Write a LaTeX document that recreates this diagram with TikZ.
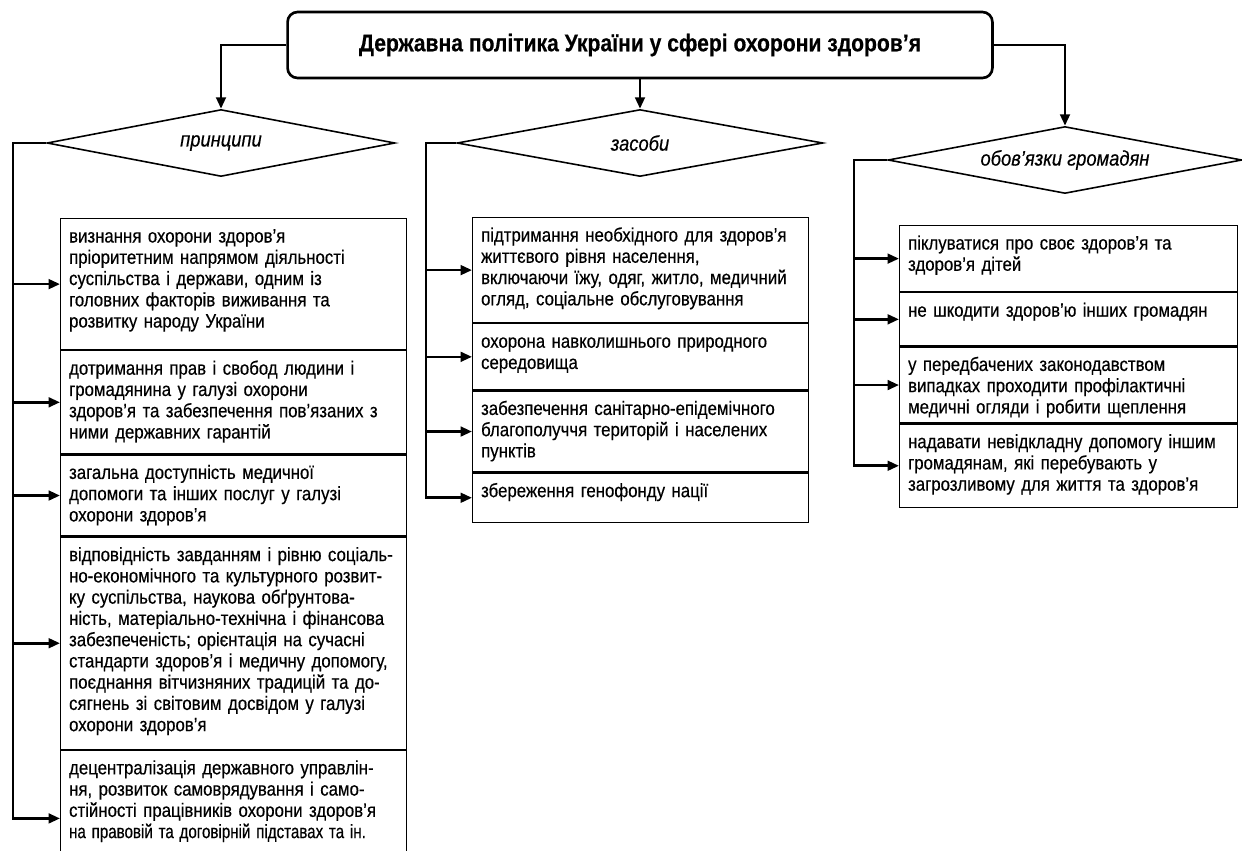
\documentclass[tikz,border=0pt]{standalone}
\usepackage{fontspec}
\setmainfont{Liberation Sans}[FakeStretch=0.87,FakeBold=0.4]
\usetikzlibrary{arrows.meta,positioning,shapes.geometric}
\newcommand\celltext[2]{\parbox[t][#1][t]{\linewidth}{\strut#2}}

\begin{document}
\begin{tikzpicture}[x=0.02cm,y=-0.02cm,
    conn/.style={line width=1.5pt},
    arr/.style={conn,-{Triangle[length=6.5pt,width=5.5pt]}},
    title/.style={draw,line width=1.5pt,rounded corners=0.2cm,minimum width=14.1cm,minimum height=1.32cm,font=\fontsize{13.8}{15}\selectfont\bfseries},
    choice/.style={draw,diamond,line width=0.9pt,aspect=5.4,inner sep=0pt,minimum height=1.34cm,font=\fontsize{12}{14}\selectfont\itshape},
    item/.style={draw,line width=0.7pt,anchor=north west,align=left,inner xsep=0.17cm,inner ysep=0.18cm,font=\fontsize{11}{12.1}\selectfont},
    lbox/.style={item,text width=6.58cm},
    mbox/.style={item,text width=6.38cm},
    rbox/.style={item,text width=6.42cm}]
  \useasboundingbox (0,0) rectangle (1242,850);

  %%%%% START %%%%%

  \node[title] (policy) at (640,45) {Державна політика України у сфері охорони здоров’я};

  \node[choice,minimum width=6.96cm] (princ) at (221,143) {принципи};
  \node[choice,minimum width=7.32cm] (means) at (640,143) {засоби};
  \node[choice,minimum width=7.08cm] (duties) at (1065,160) {обов’язки громадян};

  \draw[arr] (policy.west) -| (princ.north);
  \draw[arr] (policy.south) -- (means.north);
  \draw[arr] (policy.east) -| (duties.north);

  % principles
  \node[lbox] (l1) at (60,218) {\celltext{2.26cm}{визнання охорони здоров’я\\пріоритетним напрямом діяльності\\суспільства і держави, одним із\\головних факторів виживання та\\розвитку народу України}};
  \node[lbox] (l2) at (l1.south west) {\celltext{1.70cm}{дотримання прав і свобод людини і\\громадянина у галузі охорони\\здоров’я та забезпечення пов’язаних з\\ними державних гарантій}};
  \node[lbox] (l3) at (l2.south west) {\celltext{1.26cm}{загальна доступність медичної\\допомоги та інших послуг у галузі\\охорони здоров’я}};
  \node[lbox] (l4) at (l3.south west) {\celltext{3.88cm}{відповідність завданням і рівню соціаль-\\но-економічного та культурного розвит-\\ку суспільства, наукова обґрунтова-\\ність, матеріально-технічна і фінансова\\забезпеченість; орієнтація на сучасні\\стандарти здоров’я і медичну допомогу,\\поєднання вітчизняних традицій та до-\\сягнень зі світовим досвідом у галузі\\охорони здоров’я}};
  \node[lbox] (l5) at (l4.south west) {\celltext{2.36cm}{децентралізація державного управлін-\\ня, розвиток самоврядування і само-\\стійності працівників охорони здоров’я\\\scalebox{0.9}[1]{на правовій та договірній підставах та ін.}}};

  \coordinate (lspine) at (13,143);
  \draw[arr] (princ.west) -- (lspine) |- (l5.west);
  \foreach \b in {l1,l2,l3,l4}
    \draw[arr] (lspine |- \b.west) -- (\b.west);

  % means
  \node[mbox] (m1) at (472,217) {\celltext{1.74cm}{підтримання необхідного для здоров’я\\життєвого рівня населення,\\включаючи їжу, одяг, житло, медичний\\огляд, соціальне обслуговування}};
  \node[mbox] (m2) at (m1.south west) {\celltext{0.96cm}{охорона навколишнього природного\\середовища}};
  \node[mbox] (m3) at (m2.south west) {\celltext{1.26cm}{забезпечення санітарно-епідемічного\\благополуччя територій і населених\\пунктів}};
  \node[mbox] (m4) at (m3.south west) {\celltext{0.62cm}{збереження генофонду нації}};

  \coordinate (mspine) at (426,143);
  \draw[arr] (means.west) -- (mspine) |- (m4.west);
  \foreach \b in {m1,m2,m3}
    \draw[arr] (mspine |- \b.west) -- (\b.west);

  % duties
  \node[rbox] (r1) at (899,225) {\celltext{0.96cm}{піклуватися про своє здоров’я та\\здоров’я дітей}};
  \node[rbox] (r2) at (r1.south west) {\celltext{0.70cm}{не шкодити здоров’ю інших громадян}};
  \node[rbox] (r3) at (r2.south west) {\celltext{1.16cm}{у передбачених законодавством\\випадках проходити профілактичні\\медичні огляди і робити щеплення}};
  \node[rbox] (r4) at (r3.south west) {\celltext{1.30cm}{надавати невідкладну допомогу іншим\\громадянам, які перебувають у\\загрозливому для життя та здоров’я}};

  \coordinate (rspine) at (854,160);
  \draw[arr] (duties.west) -- (rspine) |- (r4.west);
  \foreach \b in {r1,r2,r3}
    \draw[arr] (rspine |- \b.west) -- (\b.west);

  %%%%% END %%%%%
\end{tikzpicture}
\end{document}
